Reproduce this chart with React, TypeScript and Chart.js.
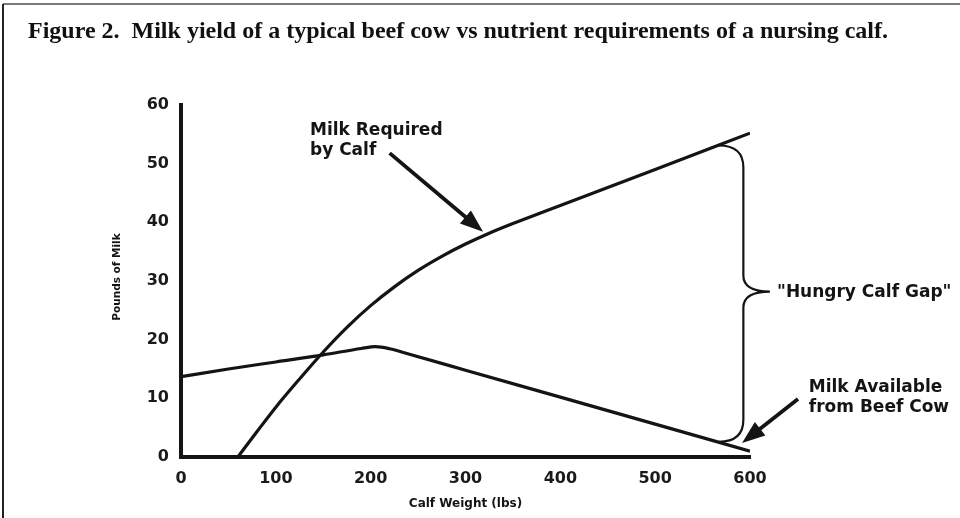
import React, { useEffect, useRef } from "react";
import { Chart, registerables } from "chart.js";

Chart.register(...registerables);

// ---- data ----
const requiredWeights = [60, 80, 100, 125, 150, 175, 200, 225, 250, 275, 300, 325, 350, 375, 400, 500, 600];
const requiredMilk = [0, 4.3, 8.5, 13.3, 17.9, 22.1, 25.8, 29.0, 31.8, 34.2, 36.3, 38.15, 39.8, 41.35, 42.85, 49.0, 55.2];

const availableWeights = [0, 50, 100, 150, 190, 205, 220, 240, 300, 400, 500, 600];
const availableMilk = [13.7, 15.0, 16.2, 17.4, 18.5, 18.8, 18.45, 17.55, 14.8, 10.2, 5.6, 1.0];

const xRange = [0, 600];
const xStep = 100;
const yRange = [0, 60];
const yStep = 10;

const titleText = "Figure 2.  Milk yield of a typical beef cow vs nutrient requirements of a nursing calf.";
const xAxisTitle = "Calf Weight (lbs)";
const yAxisTitle = "Pounds of Milk";
const requiredLabel = ["Milk Required", "by Calf"];
const availableLabel = ["Milk Available", "from Beef Cow"];
const gapLabel = "\"Hungry Calf Gap\"";

// annotation anchors in data units
const requiredLabelAt = { x: 136, y: 55.7 };
const requiredArrow = { from: { x: 220, y: 51.8 }, to: { x: 318.5, y: 38.4 } };
const availableLabelAt = { x: 662, y: 11.8 };
const availableArrow = { from: { x: 650.6, y: 9.9 }, to: { x: 591.6, y: 2.4 } };
const gapLabelAt = { x: 628.5, y: 28.1 };
const brace = { xEnd: 567, xSpine: 593, xTip: 621, yTop: 53.1, yMid: 28.2, yBottom: 2.6 };

const INK = "#141414";
const LABEL_FONT = 'bold 17px "DejaVu Sans"';

function drawArrow(ctx: CanvasRenderingContext2D, x1: number, y1: number, x2: number, y2: number) {
  const ang = Math.atan2(y2 - y1, x2 - x1);
  const headLen = 23;
  const headW = 8.5;
  const bx = x2 - headLen * Math.cos(ang);
  const by = y2 - headLen * Math.sin(ang);
  ctx.beginPath();
  ctx.moveTo(x1, y1);
  ctx.lineTo(bx + 2 * Math.cos(ang), by + 2 * Math.sin(ang));
  ctx.lineWidth = 3.8;
  ctx.strokeStyle = INK;
  ctx.stroke();
  ctx.beginPath();
  ctx.moveTo(x2, y2);
  ctx.lineTo(bx + headW * Math.sin(ang), by - headW * Math.cos(ang));
  ctx.lineTo(bx - headW * Math.sin(ang), by + headW * Math.cos(ang));
  ctx.closePath();
  ctx.fillStyle = INK;
  ctx.fill();
}

const annotations = {
  id: "annotations",
  beforeDraw(chart: any) {
    const { ctx, width, height } = chart;
    ctx.save();
    ctx.fillStyle = "#ffffff";
    ctx.fillRect(0, 0, width, height);
    // frame
    ctx.strokeStyle = "#7a7a7a";
    ctx.lineWidth = 2;
    ctx.beginPath();
    ctx.moveTo(3, 4);
    ctx.lineTo(width, 4);
    ctx.stroke();
    ctx.strokeStyle = "#222222";
    ctx.beginPath();
    ctx.moveTo(3, 4);
    ctx.lineTo(3, height);
    ctx.stroke();
    // title
    ctx.fillStyle = "#111111";
    ctx.font = 'bold 24px "Liberation Serif"';
    ctx.textAlign = "left";
    ctx.textBaseline = "alphabetic";
    ctx.fillText(titleText, 28, 38);
    ctx.restore();
  },
  afterDatasetsDraw(chart: any) {
    const { ctx, chartArea } = chart;
    const xs = chart.scales.x;
    const ys = chart.scales.y;
    const X = (v: number) => xs.getPixelForValue(v);
    const Y = (v: number) => ys.getPixelForValue(v);
    ctx.save();
    ctx.fillStyle = INK;

    // axis titles
    ctx.font = 'bold 12px "DejaVu Sans"';
    ctx.textAlign = "center";
    ctx.textBaseline = "middle";
    ctx.fillText(xAxisTitle, (chartArea.left + chartArea.right) / 2, 504);
    ctx.save();
    ctx.translate(117, (chartArea.top + chartArea.bottom) / 2 - 4);
    ctx.rotate(-Math.PI / 2);
    ctx.font = 'bold 10.5px "DejaVu Sans"';
    ctx.fillText(yAxisTitle, 0, 0);
    ctx.restore();

    // labels
    ctx.font = LABEL_FONT;
    ctx.textAlign = "left";
    ctx.textBaseline = "middle";
    requiredLabel.forEach((t, i) => ctx.fillText(t, X(requiredLabelAt.x), Y(requiredLabelAt.y) + i * 20));
    availableLabel.forEach((t, i) => ctx.fillText(t, X(availableLabelAt.x), Y(availableLabelAt.y) + i * 20));
    ctx.fillText(gapLabel, X(gapLabelAt.x), Y(gapLabelAt.y));

    // arrows
    drawArrow(ctx, X(requiredArrow.from.x), Y(requiredArrow.from.y), X(requiredArrow.to.x), Y(requiredArrow.to.y));
    drawArrow(ctx, X(availableArrow.from.x), Y(availableArrow.from.y), X(availableArrow.to.x), Y(availableArrow.to.y));

    // brace
    const xe = X(brace.xEnd), xsp = X(brace.xSpine), xt = X(brace.xTip);
    const yt = Y(brace.yTop), ym = Y(brace.yMid), yb = Y(brace.yBottom);
    ctx.beginPath();
    ctx.moveTo(xe, yt);
    ctx.quadraticCurveTo(xsp, yt, xsp, yt + 22);
    ctx.lineTo(xsp, ym - 16);
    ctx.quadraticCurveTo(xsp, ym, xt, ym);
    ctx.quadraticCurveTo(xsp, ym, xsp, ym + 16);
    ctx.lineTo(xsp, yb - 22);
    ctx.quadraticCurveTo(xsp, yb, xe, yb);
    ctx.lineWidth = 2.2;
    ctx.strokeStyle = INK;
    ctx.stroke();
    ctx.restore();
  },
};

export default function App() {
  const ref = useRef<HTMLCanvasElement | null>(null);
  useEffect(() => {
    if (!ref.current) return;
    const chart = new Chart(ref.current, {
      type: "line",
      data: {
        datasets: [
          {
            label: "Milk Required by Calf",
            data: requiredWeights.map((x, i) => ({ x, y: requiredMilk[i] })),
            borderColor: INK,
            borderWidth: 3.2,
            pointRadius: 0,
            cubicInterpolationMode: "monotone",
            fill: false,
          },
          {
            label: "Milk Available from Beef Cow",
            data: availableWeights.map((x, i) => ({ x, y: availableMilk[i] })),
            borderColor: INK,
            borderWidth: 3.2,
            pointRadius: 0,
            cubicInterpolationMode: "monotone",
            fill: false,
          },
        ],
      },
      options: {
        responsive: false,
        animation: false,
        events: [],
        layout: { padding: { left: 0, right: 210, top: 105, bottom: 0 } },
        plugins: { legend: { display: false }, title: { display: false }, tooltip: { enabled: false } },
        scales: {
          x: {
            type: "linear",
            min: xRange[0],
            max: xRange[1],
            grid: { display: false, drawTicks: false },
            border: { display: true, color: INK, width: 4 },
            ticks: {
              stepSize: xStep,
              padding: 12,
              color: "#1a1a1a",
              font: { family: "DejaVu Sans", weight: "bold", size: 16 },
            },
            afterFit(scale: any) {
              scale.height = 61;
            },
          },
          y: {
            type: "linear",
            min: yRange[0],
            max: yRange[1],
            grid: { display: false, drawTicks: false },
            border: { display: true, color: INK, width: 4 },
            ticks: {
              stepSize: yStep,
              padding: 12,
              color: "#1a1a1a",
              font: { family: "DejaVu Sans", weight: "bold", size: 16 },
            },
            afterFit(scale: any) {
              scale.width = 181;
            },
          },
        },
      },
      plugins: [annotations],
    } as any);
    return () => chart.destroy();
  }, []);
  return (
    <div style={{ position: "absolute", left: 0, top: 0, width: 960, height: 518, background: "#fff" }}>
      <canvas ref={ref} width={960} height={518} />
    </div>
  );
}
